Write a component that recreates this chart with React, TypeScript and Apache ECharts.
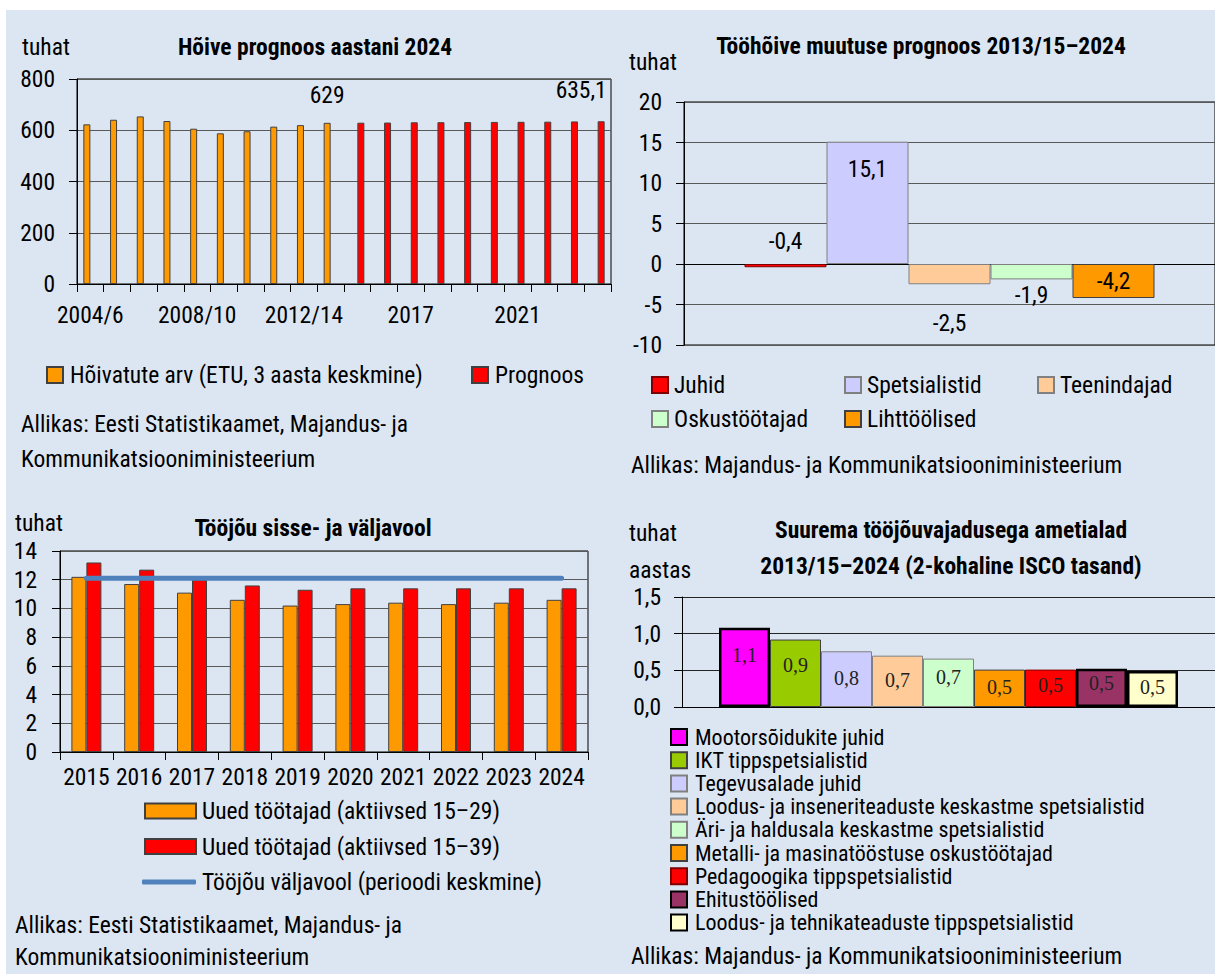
import React, { useEffect, useRef } from "react";
import * as echarts from "echarts";

const FONT = "'Roboto Condensed', 'Liberation Sans Narrow', 'DejaVu Sans Condensed', Roboto, sans-serif";
const SERIF = "'Liberation Serif', 'DejaVu Serif', serif";

// ---------- Panel 1: Hõive prognoos ----------
const p1Title = "Hõive prognoos aastani 2024";
const p1Categories = [
  "2004/6", "2005/7", "2006/8", "2007/9", "2008/10", "2009/11", "2010/12", "2011/13", "2012/14", "2013/15",
  "2015", "2016", "2017", "2018", "2019", "2020", "2021", "2022", "2023", "2024",
];
const p1ActualName = "Hõivatute arv (ETU, 3 aasta keskmine)";
const p1ForecastName = "Prognoos";
const p1Actual = [623, 641, 654, 636, 606, 588, 596, 614, 620, 629, null, null, null, null, null, null, null, null, null, null];
const p1Forecast = [null, null, null, null, null, null, null, null, null, null, 629.5, 630, 631, 631.5, 632, 632.5, 633, 633.5, 634.5, 635.1];
const p1LabelActualIdx = 9;
const p1LabelForecastIdx = 19;
const p1YMin = 0, p1YMax = 800, p1YStep = 200;
const p1Source = ["Allikas: Eesti Statistikaamet, Majandus- ja", "Kommunikatsiooniministeerium"];

// ---------- Panel 2: Tööhõive muutuse prognoos ----------
const p2Title = "Tööhõive muutuse prognoos 2013/15–2024";
const p2Names = ["Juhid", "Spetsialistid", "Teenindajad", "Oskustöötajad", "Lihttöölised"];
const p2Values = [-0.4, 15.1, -2.5, -1.9, -4.2];
const p2YMin = -10, p2YMax = 20, p2YStep = 5;
const p2Source = "Allikas: Majandus- ja Kommunikatsiooniministeerium";

// ---------- Panel 3: Tööjõu sisse- ja väljavool ----------
const p3Title = "Tööjõu sisse- ja väljavool";
const p3Years = ["2015", "2016", "2017", "2018", "2019", "2020", "2021", "2022", "2023", "2024"];
const p3Name1 = "Uued töötajad (aktiivsed 15–29)";
const p3Name2 = "Uued töötajad (aktiivsed 15–39)";
const p3Name3 = "Tööjõu väljavool (perioodi keskmine)";
const p3New1529 = [12.2, 11.7, 11.1, 10.6, 10.2, 10.3, 10.4, 10.3, 10.4, 10.6];
const p3New1539 = [13.2, 12.7, 12.0, 11.6, 11.3, 11.4, 11.4, 11.4, 11.4, 11.4];
const p3Outflow = [12.1, 12.1, 12.1, 12.1, 12.1, 12.1, 12.1, 12.1, 12.1, 12.1];
const p3YMin = 0, p3YMax = 14, p3YStep = 2;
const p3Source = ["Allikas: Eesti Statistikaamet, Majandus- ja", "Kommunikatsiooniministeerium"];

// ---------- Panel 4: Suurema tööjõuvajadusega ametialad ----------
const p4Title = ["Suurema tööjõuvajadusega ametialad", "2013/15–2024 (2-kohaline ISCO tasand)"];
const p4Names = [
  "Mootorsõidukite juhid",
  "IKT tippspetsialistid",
  "Tegevusalade juhid",
  "Loodus- ja inseneriteaduste keskastme spetsialistid",
  "Äri- ja haldusala keskastme spetsialistid",
  "Metalli- ja masinatööstuse oskustöötajad",
  "Pedagoogika tippspetsialistid",
  "Ehitustöölised",
  "Loodus- ja tehnikateaduste tippspetsialistid",
];
const p4Values = [1.08, 0.92, 0.76, 0.7, 0.66, 0.51, 0.51, 0.52, 0.49];
const p4YMin = 0, p4YMax = 1.5, p4YStep = 0.5;
const p4Source = "Allikas: Majandus- ja Kommunikatsiooniministeerium";

// ---------- styles ----------
const FS = 23.5;
const p2Colors = ["#ff0000", "#ccccff", "#ffcc99", "#ccffcc", "#ff9900"];
const p2Borders = ["#7f0000", "#808080", "#808080", "#808080", "#404040"];
const p2LabelPos: any[] = [
  { position: "top", distance: 11 },
  { position: "insideTop", distance: 15 },
  { position: "bottom", distance: 27 },
  { position: "bottom", distance: 4 },
  { position: "inside", distance: 0 },
];
const p4Colors = ["#ff00ff", "#99cc00", "#ccccff", "#ffcc99", "#ccffcc", "#ff9900", "#ff0000", "#993366", "#ffffcc"];
const p4BorderW = [2.5, 1, 1, 1, 1, 1, 1, 2.5, 2.5];
const p4BorderC = ["#000", "#404040", "#808080", "#808080", "#808080", "#404040", "#7f0000", "#000", "#000"];
const p4LabelDy = [-12, -8, -1, -1, -6, -1, -3, -5, -2];
const p4LegendTop = 725;
const p4LegendStep = 23.2;

const fmt = (v: number) => String(v).replace(".", ",");
const fmt1 = (v: number) => v.toFixed(1).replace(".", ",");

function txt(text: string, x: number, y: number, size: number, bold = false, align = "left") {
  return {
    type: "text",
    x,
    y,
    z: 50,
    style: {
      text,
      fontFamily: FONT,
      fontSize: size,
      fontWeight: bold ? "bold" : "normal",
      fill: "#000",
      align,
      verticalAlign: "middle",
      textAlign: align,
      textVerticalAlign: "middle",
    },
  };
}

function leg(names: string[], left: number, top: number, o: any) {
  return {
    data: names.map((n) => (o.icon ? { name: n, icon: o.icon } : { name: n })),
    orient: "vertical",
    left,
    top,
    padding: 0,
    itemGap: o.gap ?? 0,
    itemWidth: o.w,
    itemHeight: o.h,
    selectedMode: false,
    textStyle: {
      fontFamily: FONT,
      fontSize: o.fs,
      color: "#000",
      lineHeight: o.lh,
      padding: [0, 0, 0, o.tp ?? 0],
    },
  };
}

const axisBlack = { show: true, lineStyle: { color: "#000", width: 1 } };
const gridLine = (c = "#595959") => ({ show: true, lineStyle: { color: c, width: 1 } });

function buildOption() {
  const labelBase = { fontFamily: FONT, color: "#000" };

  const series: any[] = [];

  // Panel 1
  series.push({
    type: "bar",
    name: p1ActualName,
    xAxisIndex: 0,
    yAxisIndex: 0,
    barWidth: 7,
    barGap: "0%",
    itemStyle: { color: "#ff9900", borderColor: "#404040", borderWidth: 1 },
    data: p1Actual.map((v, i) =>
      i === p1LabelActualIdx
        ? { value: v, label: { show: true, position: "top", distance: 16, fontSize: FS, ...labelBase, formatter: (p: any) => fmt(p.value) } }
        : v
    ),
  });
  series.push({
    type: "bar",
    name: p1ForecastName,
    xAxisIndex: 0,
    yAxisIndex: 0,
    barWidth: 7,
    barGap: "0%",
    itemStyle: { color: "#ff0000", borderColor: "#404040", borderWidth: 1 },
    data: p1Forecast.map((v, i) =>
      i === p1LabelForecastIdx
        ? { value: v, label: { show: true, position: "top", distance: 19, offset: [-20, 0], fontSize: FS, ...labelBase, formatter: (p: any) => fmt(p.value) } }
        : v
    ),
  });

  // Panel 2
  p2Names.forEach((n, i) => {
    series.push({
      type: "bar",
      name: n,
      xAxisIndex: 1,
      yAxisIndex: 1,
      barWidth: 82,
      barGap: "0%",
      itemStyle: { color: p2Colors[i], borderColor: p2Borders[i], borderWidth: 1 },
      label: { show: true, ...p2LabelPos[i], fontSize: FS, ...labelBase, formatter: (p: any) => fmt(p.value) },
      data: [p2Values[i]],
    });
  });

  // Panel 3
  series.push({
    type: "bar",
    name: p3Name1,
    xAxisIndex: 2,
    yAxisIndex: 2,
    barWidth: 15,
    barGap: "0%",
    itemStyle: { color: "#ff9900", borderColor: "#404040", borderWidth: 1 },
    data: p3New1529,
  });
  series.push({
    type: "bar",
    name: p3Name2,
    xAxisIndex: 2,
    yAxisIndex: 2,
    barWidth: 15,
    barGap: "0%",
    itemStyle: { color: "#ff0000", borderColor: "#404040", borderWidth: 1 },
    data: p3New1539,
  });
  series.push({
    type: "line",
    name: p3Name3,
    xAxisIndex: 2,
    yAxisIndex: 2,
    symbol: "none",
    z: 5,
    lineStyle: { color: "#4f81bd", width: 5, cap: "round" },
    itemStyle: { color: "#4f81bd" },
    data: p3Outflow,
  });

  // Panel 4
  p4Names.forEach((n, i) => {
    series.push({
      type: "bar",
      name: n,
      xAxisIndex: 3,
      yAxisIndex: 3,
      barWidth: 51,
      barGap: "0%",
      itemStyle: { color: p4Colors[i], borderColor: p4BorderC[i], borderWidth: p4BorderW[i] },
      label: {
        show: true,
        position: "inside",
        offset: [0, p4LabelDy[i]],
        fontFamily: SERIF,
        fontSize: 20,
        color: "#222",
        formatter: (p: any) => fmt1(p.value),
      },
      data: [p4Values[i]],
    });
  });

  const yLab = (fs: number, margin: number, f?: any) => ({
    fontFamily: FONT,
    fontSize: fs,
    color: "#000",
    margin,
    ...(f ? { formatter: f } : {}),
  });
  const yTick = { show: true, length: 8, lineStyle: { color: "#000" } };

  const p4Legends = p4Names.map((n, i) =>
    leg([n], 670, p4LegendTop + i * p4LegendStep, { w: 16, h: 16, fs: 22, lh: 24, icon: "rect", tp: 3 })
  );

  const option: any = {
    animation: false,
    backgroundColor: "#ffffff",
    textStyle: { fontFamily: FONT },
    grid: [
      { left: 77, top: 79, width: 534, height: 205, show: true, borderColor: "#000", borderWidth: 1, backgroundColor: "transparent" },
      { left: 684, top: 102, width: 534, height: 243, show: true, borderColor: "#000", borderWidth: 1, backgroundColor: "transparent" },
      { left: 60, top: 551, width: 528, height: 201, show: true, borderColor: "#000", borderWidth: 1, backgroundColor: "transparent" },
      { left: 682, top: 597, width: 534, height: 110, show: false },
    ],
    xAxis: [
      {
        gridIndex: 0,
        type: "category",
        data: p1Categories,
        axisLine: axisBlack,
        axisTick: { show: true, interval: 0, length: 8, lineStyle: { color: "#000" } },
        axisLabel: { interval: 3, fontFamily: FONT, fontSize: FS, color: "#000", margin: 19 },
      },
      {
        gridIndex: 1,
        type: "category",
        data: [""],
        axisLine: { ...axisBlack, onZero: true },
        axisTick: { show: false },
        axisLabel: { show: false },
      },
      {
        gridIndex: 2,
        type: "category",
        data: p3Years,
        axisLine: axisBlack,
        axisTick: { show: true, interval: 0, length: 8, lineStyle: { color: "#000" } },
        axisLabel: { interval: 0, fontFamily: FONT, fontSize: FS, color: "#000", margin: 13 },
      },
      {
        gridIndex: 3,
        type: "category",
        data: [""],
        axisLine: axisBlack,
        axisTick: { show: false },
        axisLabel: { show: false },
      },
    ],
    yAxis: [
      {
        gridIndex: 0,
        type: "value",
        min: p1YMin,
        max: p1YMax,
        interval: p1YStep,
        axisLine: axisBlack,
        axisTick: yTick,
        splitLine: gridLine(),
        axisLabel: yLab(FS, 22),
      },
      {
        gridIndex: 1,
        type: "value",
        min: p2YMin,
        max: p2YMax,
        interval: p2YStep,
        axisLine: axisBlack,
        axisTick: yTick,
        splitLine: gridLine(),
        axisLabel: yLab(FS, 22),
      },
      {
        gridIndex: 2,
        type: "value",
        min: p3YMin,
        max: p3YMax,
        interval: p3YStep,
        axisLine: axisBlack,
        axisTick: yTick,
        splitLine: gridLine(),
        axisLabel: yLab(FS, 23),
      },
      {
        gridIndex: 3,
        type: "value",
        min: p4YMin,
        max: p4YMax,
        interval: p4YStep,
        axisLine: axisBlack,
        axisTick: yTick,
        splitLine: gridLine("#262626"),
        axisLabel: yLab(FS, 21, (v: number) => fmt1(v)),
      },
    ],
    legend: [
      leg([p1ActualName], 46, 362, { w: 16, h: 16, fs: FS, lh: 26, icon: "rect", tp: 2 }),
      leg([p1ForecastName], 471, 362, { w: 16, h: 16, fs: FS, lh: 26, icon: "rect", tp: 2 }),
      leg([p2Names[0], p2Names[3]], 651, 372, { w: 16, h: 16, fs: FS, lh: 26, gap: 8, icon: "rect", tp: 1 }),
      leg([p2Names[1], p2Names[4]], 844, 372, { w: 16, h: 16, fs: FS, lh: 26, gap: 8, icon: "rect", tp: 1 }),
      leg([p2Names[2]], 1037, 372, { w: 16, h: 16, fs: FS, lh: 26, gap: 8, icon: "rect", tp: 1 }),
      leg([p3Name1, p3Name2], 144, 798, { w: 51, h: 15, fs: FS, lh: 26, gap: 9.5, icon: "rect", tp: 1 }),
      leg([p3Name3], 142, 869, { w: 54, h: 5, fs: FS, lh: 26, tp: 1, icon: "roundRect" }),
      ...p4Legends,
    ],
    graphic: [
      { type: "rect", z: -100, shape: { x: 6, y: 10, width: 1215, height: 970 }, style: { fill: "#dce6f2" } },
      // Panel 1
      txt("tuhat", 22, 47, FS),
      txt(p1Title, 315, 47, FS, true, "center"),
      txt(p1Source[0], 21, 424, FS),
      txt(p1Source[1], 21, 459, FS),
      // Panel 2
      txt("tuhat", 629, 62, FS),
      txt(p2Title, 921, 46, FS, true, "center"),
      txt(p2Source, 631, 465, FS),
      // Panel 3
      txt("tuhat", 15, 523, FS),
      txt(p3Title, 313, 528, FS, true, "center"),
      txt(p3Source[0], 15, 925, FS),
      txt(p3Source[1], 15, 957, FS),
      // Panel 4
      txt("tuhat", 629, 533, FS),
      txt("aastas", 629, 570, FS),
      txt(p4Title[0], 951, 530, FS, true, "center"),
      txt(p4Title[1], 951, 566, FS, true, "center"),
      txt(p4Source, 631, 956, FS),
    ],
    series,
  };
  return option;
}

export default function App() {
  const ref = useRef<HTMLDivElement>(null);
  useEffect(() => {
    document.body.style.margin = "0";
    if (!ref.current) return;
    const chart = echarts.init(ref.current, null, { renderer: "svg" });
    chart.setOption(buildOption());
    return () => chart.dispose();
  }, []);
  return <div ref={ref} style={{ width: 1215, height: 974 }} />;
}
